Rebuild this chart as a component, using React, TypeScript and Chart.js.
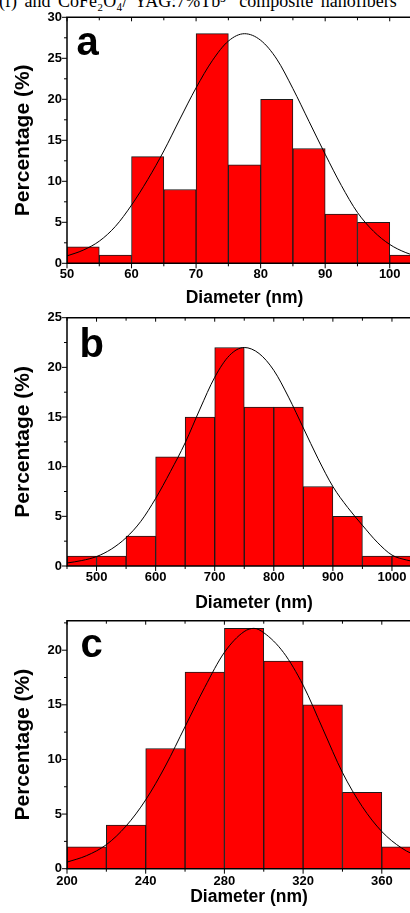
import React, { useEffect, useRef } from 'react';
import { Chart, registerables } from 'chart.js';

Chart.register(...registerables);

const SANS = '"Liberation Sans", Arial, Helvetica, sans-serif';

// ---------- Panel a ----------
const aBinCenters = [52.5, 57.5, 62.5, 67.5, 72.5, 77.5, 82.5, 87.5, 92.5, 97.5, 102.5];
const aPercent = [2, 1, 13, 9, 28, 12, 20, 14, 6, 5, 1];
const aFitX = [50, 52.5, 55, 57.5, 60, 62.5, 65, 67.5, 70, 72.5, 75, 77.5, 80, 82.5, 85, 87.5, 90, 92.5, 95, 97.5, 100, 102.5, 105];
const aFitY = [0.9, 1.6, 2.7, 4.5, 7.1, 10.2, 13.7, 17.6, 21.4, 24.7, 27.1, 28.0, 27.2, 24.9, 21.3, 17.3, 13.3, 9.5, 6.2, 3.9, 2.3, 1.3, 0.7];
const aXTicks = [50, 60, 70, 80, 90, 100];
const aXMinor = [55, 65, 75, 85, 95, 105];
const aYTicks = [0, 5, 10, 15, 20, 25, 30];
const aYMinor = [2.5, 7.5, 12.5, 17.5, 22.5, 27.5];

// ---------- Panel b ----------
const bBinCenters = [475, 525, 575, 625, 675, 725, 775, 825, 875, 925, 975, 1025];
const bPercent = [1, 1, 3, 11, 15, 22, 16, 16, 8, 5, 1, 1];
const bFitX = [450, 475, 500, 525, 550, 575, 600, 625, 650, 675, 700, 725, 750, 775, 800, 825, 850, 875, 900, 925, 950, 975, 1000, 1025, 1050, 1080];
const bFitY = [0.3, 0.55, 0.95, 1.7, 2.85, 4.5, 6.8, 9.5, 12.4, 15.8, 19.0, 21.2, 22.0, 21.4, 19.7, 17.0, 13.9, 10.8, 8.0, 5.9, 4.1, 2.4, 1.1, 0.6, 0.3, 0.1];
const bXTicks = [500, 600, 700, 800, 900, 1000];
const bXMinor = [450, 550, 650, 750, 850, 950, 1050];
const bYTicks = [0, 5, 10, 15, 20, 25];
const bYMinor = [2.5, 7.5, 12.5, 17.5, 22.5];

// ---------- Panel c ----------
const cBinCenters = [210, 230, 250, 270, 290, 310, 330, 350, 370];
const cPercent = [2, 4, 11, 18, 22, 19, 15, 7, 2];
const cFitX = [200, 210, 220, 230, 240, 250, 260, 270, 280, 290, 295, 300, 310, 320, 330, 340, 350, 360, 370, 380, 385];
const cFitY = [0.6, 1.2, 2.2, 3.9, 6.3, 9.4, 13.0, 16.6, 19.8, 21.7, 22.0, 21.6, 19.8, 16.8, 12.8, 8.8, 5.7, 3.4, 1.9, 1.0, 0.7];
const cXTicks = [200, 240, 280, 320, 360];
const cXMinor = [220, 260, 300, 340, 380];
const cYTicks = [0, 5, 10, 15, 20];
const cYMinor = [2.5, 7.5, 12.5, 17.5, 22.5];

const xTitle = 'Diameter (nm)';
const yTitle = 'Percentage (%)';
const headerText = '(f) and CoFe\u2082O\u2084/ YAG:7%Tb\u00b3\u207a composite nanofibers';

type Spec = {
  canvasTop: number; plotTop: number; plotBottom: number; plotLeft: number; plotRight: number;
  xMin: number; xMax: number; yMax: number; titleCY: number; labelGap: number;
  letter: string; letterX: number; letterBase: number;
  centers: number[]; values: number[]; fitX: number[]; fitY: number[];
  xTicks: number[]; xMinor: number[]; yTicks: number[]; yMinor: number[];
};

const specs: Spec[] = [
  { canvasTop: 0, plotTop: 17.3, plotBottom: 263.3, plotLeft: 67, plotRight: 422, xMin: 50, xMax: 105, yMax: 30,
    titleCY: 298, labelGap: 6.7, letter: 'a', letterX: 76.5, letterBase: 55,
    centers: aBinCenters, values: aPercent, fitX: aFitX, fitY: aFitY,
    xTicks: aXTicks, xMinor: aXMinor, yTicks: aYTicks, yMinor: aYMinor },
  { canvasTop: 300, plotTop: 317.7, plotBottom: 566, plotLeft: 67, plotRight: 441, xMin: 450, xMax: 1083, yMax: 25,
    titleCY: 603.3, labelGap: 7, letter: 'b', letterX: 79.5, letterBase: 357,
    centers: bBinCenters, values: bPercent, fitX: bFitX, fitY: bFitY,
    xTicks: bXTicks, xMinor: bXMinor, yTicks: bYTicks, yMinor: bYMinor },
  { canvasTop: 600, plotTop: 620.7, plotBottom: 868.7, plotLeft: 67, plotRight: 431, xMin: 200, xMax: 385, yMax: 22.7,
    titleCY: 897.3, labelGap: 8, letter: 'c', letterX: 80.5, letterBase: 657,
    centers: cBinCenters, values: cPercent, fitX: cFitX, fitY: cFitY,
    xTicks: cXTicks, xMinor: cXMinor, yTicks: cYTicks, yMinor: cYMinor },
];

const framePlugin = {
  id: 'frame',
  afterDatasetsDraw(chart: any, _args: any, opts: any) {
    const { ctx, chartArea } = chart;
    const { left, right, top, bottom } = chartArea;
    const xs = chart.scales.x;
    const ys = chart.scales.y;
    ctx.save();
    ctx.strokeStyle = '#000';
    ctx.lineWidth = 1.5;
    ctx.beginPath();
    ctx.rect(left, top, right - left, bottom - top);
    ctx.stroke();
    ctx.lineWidth = 1;
    ctx.beginPath();
    const seg = (x1: number, y1: number, x2: number, y2: number) => { ctx.moveTo(x1, y1); ctx.lineTo(x2, y2); };
    opts.xTicks.forEach((v: number) => { const p = xs.getPixelForValue(v); seg(p, bottom, p, bottom + 5); seg(p, top, p, top + 4); });
    opts.xMinor.forEach((v: number) => { const p = xs.getPixelForValue(v); seg(p, bottom, p, bottom + 3); seg(p, top, p, top + 3); });
    opts.yTicks.forEach((v: number) => { const p = ys.getPixelForValue(v); seg(left - 5, p, left, p); });
    opts.yMinor.forEach((v: number) => { const p = ys.getPixelForValue(v); seg(left - 3, p, left, p); });
    ctx.stroke();
    ctx.fillStyle = '#000';
    ctx.font = 'bold 40px ' + SANS;
    ctx.textBaseline = 'alphabetic';
    ctx.textAlign = 'left';
    ctx.fillText(opts.letter, opts.letterX, opts.letterBase);
    ctx.restore();
  },
};

function Panel({ spec }: { spec: Spec }) {
  const ref = useRef<HTMLCanvasElement>(null);
  const padRight = 10;
  const width = Math.ceil(spec.plotRight + padRight);
  const xTitleSize = 17.5;
  const height = Math.ceil(spec.titleCY - spec.canvasTop + xTitleSize / 2 + 1);
  const xScaleHeight = height - (spec.plotBottom - spec.canvasTop);
  const titlePadBottom = xScaleHeight - (spec.titleCY - spec.plotBottom) - xTitleSize / 2;

  useEffect(() => {
    if (!ref.current) return;
    const chart = new Chart(ref.current, {
      type: 'bar',
      data: {
        datasets: [
          {
            type: 'line',
            data: spec.fitX.map((x, i) => ({ x, y: spec.fitY[i] })),
            borderColor: '#000',
            borderWidth: 1,
            pointRadius: 0,
            tension: 0.4,
            cubicInterpolationMode: 'monotone',
            fill: false,
            order: 0,
            clip: 0,
          } as any,
          {
            type: 'bar',
            data: spec.centers.map((x, i) => ({ x, y: spec.values[i] })),
            backgroundColor: '#ff0000',
            borderColor: '#1a1a1a',
            borderWidth: 1,
            barPercentage: 1,
            categoryPercentage: 1,
            grouped: false,
            order: 1,
          } as any,
        ],
      },
      options: {
        responsive: false,
        animation: false,
        events: [],
        layout: { padding: { top: spec.plotTop - spec.canvasTop, left: 0, right: padRight, bottom: 0 } },
        plugins: {
          legend: { display: false },
          tooltip: { enabled: false },
          frame: {
            xTicks: spec.xTicks, xMinor: spec.xMinor, yTicks: spec.yTicks, yMinor: spec.yMinor,
            letter: spec.letter, letterX: spec.letterX, letterBase: spec.letterBase - spec.canvasTop,
          },
        } as any,
        scales: {
          x: {
            type: 'linear',
            min: spec.xMin,
            max: spec.xMax,
            offset: false,
            grid: { display: false, drawTicks: false },
            border: { display: false },
            afterBuildTicks: (s: any) => { s.ticks = spec.xTicks.map((v) => ({ value: v })); },
            afterFit: (s: any) => { s.height = xScaleHeight; },
            ticks: {
              autoSkip: false,
              maxRotation: 0,
              padding: spec.labelGap - 3.15,
              color: '#000',
              font: { family: SANS, size: 13, weight: 'bold', lineHeight: 1.2 },
              callback: (v: any) => String(v),
            },
            title: {
              display: true,
              text: xTitle,
              color: '#000',
              font: { family: SANS, size: xTitleSize, weight: 'bold', lineHeight: 1 },
              padding: { top: 0, bottom: titlePadBottom },
            },
          },
          y: {
            type: 'linear',
            min: 0,
            max: spec.yMax,
            grid: { display: false, drawTicks: false },
            border: { display: false },
            afterBuildTicks: (s: any) => { s.ticks = spec.yTicks.map((v) => ({ value: v })); },
            afterFit: (s: any) => { s.width = spec.plotLeft; },
            ticks: {
              padding: 5,
              color: '#000',
              font: { family: SANS, size: 13, weight: 'bold', lineHeight: 1.2 },
              callback: (v: any) => String(v),
            },
            title: {
              display: true,
              text: yTitle,
              color: '#000',
              font: { family: SANS, size: 21, weight: 'bold', lineHeight: 1 },
              padding: { top: 13.2, bottom: 0 },
            },
          },
        },
      } as any,
      plugins: [framePlugin as any],
    });
    return () => chart.destroy();
  }, []);

  return (
    <canvas
      ref={ref}
      width={width}
      height={height}
      style={{ position: 'absolute', left: 0, top: spec.canvasTop, width, height, display: 'block' }}
    />
  );
}

export default function App() {
  return (
    <div style={{ position: 'fixed', left: 0, top: 0, width: 410, height: 913, overflow: 'hidden', background: '#fff' }}>
      <div
        style={{
          position: 'absolute', left: -1, top: -7.6, whiteSpace: 'nowrap', wordSpacing: 3,
          fontFamily: '"Liberation Serif", "Times New Roman", serif', fontSize: 18, lineHeight: '18px', color: '#000',
        }}
      >
        {headerText}
      </div>
      {specs.map((s) => (
        <Panel key={s.letter} spec={s} />
      ))}
    </div>
  );
}
